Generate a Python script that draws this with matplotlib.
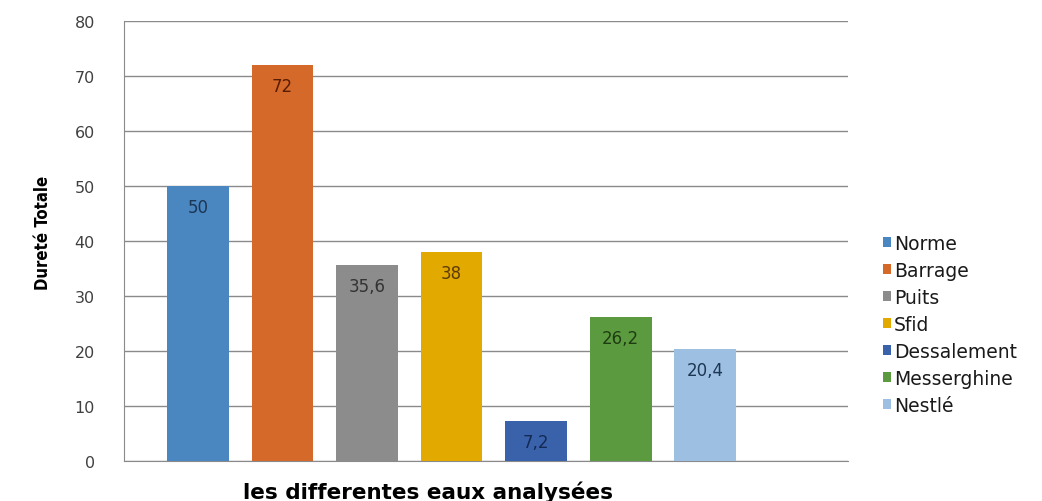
import numpy as np
import matplotlib.pyplot as plt
from matplotlib.patches import Patch

# Données : dureté totale des différentes eaux
eaux = ['Norme', 'Barrage', 'Puits', 'Sfid', 'Dessalement', 'Messerghine', 'Nestlé']
durete = [50, 72, 35.6, 38, 7.2, 26.2, 20.4]
etiquettes = ['50', '72', '35,6', '38', '7,2', '26,2', '20,4']

couleurs = ['#4a86c0', '#d4692a', '#8c8c8c', '#e2a900', '#3a62ab', '#5b9a3f', '#9dbfe2']
couleurs_txt = ['#1c3654', '#5a1c00', '#333333', '#5e3b00', '#142a55', '#1f3d12', '#1c3654']

fig = plt.figure(figsize=(10.42, 5.02), dpi=100)
ax = fig.add_axes([0.119, 0.0797, 0.695, 0.8765])

x = np.arange(len(eaux))
bars = ax.bar(x, durete, width=0.73, color=couleurs, zorder=3)

# Valeurs à l'intérieur du haut des barres
for b, lab, c in zip(bars, etiquettes, couleurs_txt):
    ax.annotate(lab, (b.get_x() + b.get_width() / 2, b.get_height()),
                xytext=(0, -15), textcoords='offset points',
                ha='center', va='center', fontsize=12, color=c, zorder=4)

ax.set_xlim(-0.875, 7.69)
ax.set_ylim(0, 80)
ax.set_yticks(range(0, 81, 10))
ax.set_xticks([])
ax.yaxis.grid(True, color='#8a8a8a', linewidth=1, zorder=0)
ax.tick_params(axis='y', length=0, pad=21, labelsize=11.5, labelcolor='#404040')

for s in ['top', 'right']:
    ax.spines[s].set_visible(False)
ax.spines['left'].set_color('#8a8a8a')
ax.spines['bottom'].set_color('#8a8a8a')

ax.set_ylabel('Dureté Totale', fontsize=12, fontweight='bold', fontstretch='condensed')
ax.yaxis.set_label_coords(-0.10, 0.52)
ax.set_xlabel('les differentes eaux analysées', fontsize=15.5, fontweight='bold', va='top')
ax.xaxis.set_label_coords(0.42, -0.045)

handles = [Patch(facecolor=c, label=n) for c, n in zip(couleurs, eaux)]
fig.legend(handles=handles, loc='upper left', bbox_to_anchor=(0.831, 0.566), frameon=False,
           fontsize=13.5, handlelength=0.45, handleheight=0.45, handletextpad=0.15,
           labelspacing=0.43, labelcolor='#1a1a1a')

fig.savefig('out.png', dpi=100)
